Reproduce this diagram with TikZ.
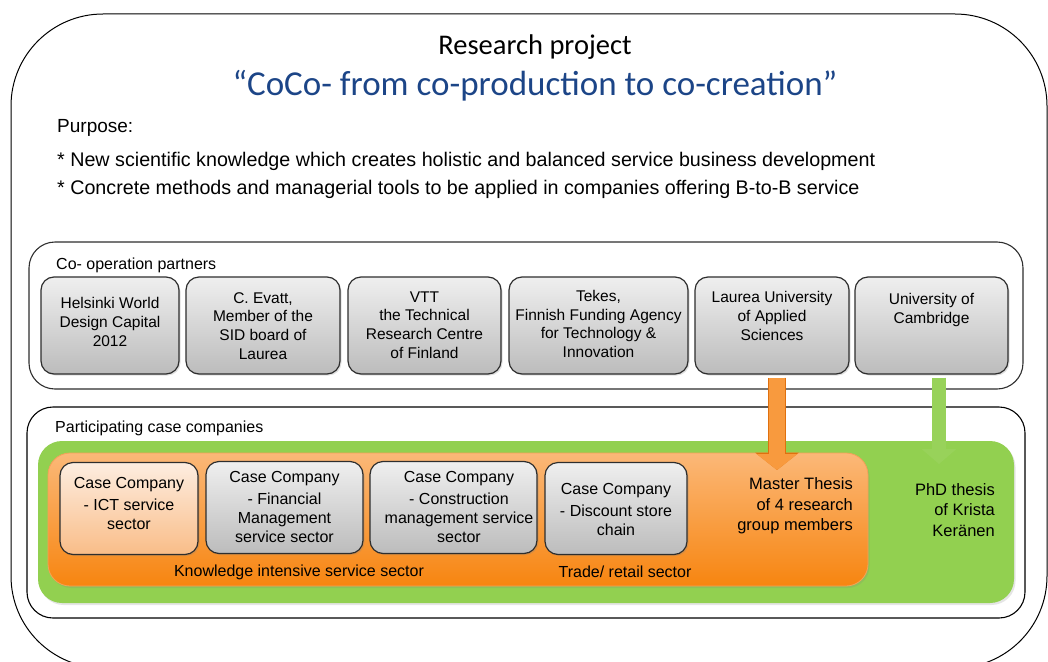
\documentclass[tikz,border=0pt]{standalone}
\usepackage{fontspec}
\setmainfont{Liberation Sans}
\newfontfamily\headfont{Carlito}
\usepackage{tikz}
\usetikzlibrary{arrows.meta}
\usetikzlibrary{shadows}

\definecolor{titleblue}{HTML}{1C4587}
\definecolor{boxtop}{HTML}{EFEFEF}
\definecolor{boxbottom}{HTML}{BCBCBC}
\definecolor{boxline}{HTML}{2E2E2E}
\definecolor{peachtop}{HTML}{FDEDE0}
\definecolor{peachbottom}{HTML}{F9BD88}
\definecolor{orangetop}{HTML}{FBB878}
\definecolor{orangebottom}{HTML}{F78510}
\definecolor{orangeline}{HTML}{F5A158}
\definecolor{leafgreen}{HTML}{92D050}
\definecolor{arrowgreen}{HTML}{98D25A}
\definecolor{arroworange}{HTML}{F89A3E}
\definecolor{arrowedge}{HTML}{E0700E}

\begin{document}
\begin{tikzpicture}[x=1pt,y=-1pt,
  frame/.style={draw=black, line width=1.1pt, rounded corners=26pt, fill=white, inner sep=0pt},
  partner/.style={draw=boxline, line width=1.2pt, rounded corners=13pt, inner sep=0pt,
    top color=boxtop, bottom color=boxbottom,
    drop shadow={shadow xshift=1.5pt, shadow yshift=-1.5pt, opacity=.25}},
  boxtext/.style={align=center, inner sep=0pt, font=\fontsize{15.5}{18.8}\selectfont},
  casetext/.style={align=center, inner sep=0pt, font=\fontsize{16}{19}\selectfont},
  grouplabel/.style={anchor=base west, inner sep=0pt, font=\fontsize{16}{19}\selectfont},
  orangearrow/.style={draw=arroworange, line width=16pt, shorten <=3pt,
    -{Triangle[width=40pt,length=16pt]},
    preaction={draw=arrowedge, line width=17.5pt, shorten <=3pt, -{Triangle[width=43pt,length=17.5pt]}}},
  greenarrow/.style={draw=arrowgreen, line width=14pt, shorten <=3pt,
    -{Triangle[width=34pt,length=15pt]}}]
\useasboundingbox (0,0) rectangle (1048,661);
\clip (0,0) rectangle (1048,661);

\coordinate (mastertip) at (777,470);
\coordinate (phdtip) at (939,464);

% outer frame and heading
\draw[line width=1pt, rounded corners=92pt] (11,14) rectangle (1047,668);
\node[anchor=base, inner sep=0pt, font=\headfont\fontsize{28.5}{30}\selectfont] (project) at (535,55) {Research project};
\node[anchor=base, inner sep=0pt, text=titleblue, font=\headfont\fontsize{35}{37}\selectfont] (title) at (535,95) {“CoCo- from co-production to co-creation”};
\node[anchor=base west, inner sep=0pt, font=\fontsize{19}{22}\selectfont] (purpose) at (57,132) {Purpose:};
\node[anchor=base west, inner sep=0pt, font=\fontsize{19.7}{22}\selectfont] (aim1) at (57,166) {* New scientific knowledge which creates holistic and balanced service business development};
\node[anchor=base west, inner sep=0pt, font=\fontsize{19.7}{22}\selectfont] (aim2) at (57,194) {* Concrete methods and managerial tools to be applied in companies offering B-to-B service};

% co-operation partners
\node[frame, draw=boxline, minimum width=994pt, minimum height=147pt] (partners) at (526,315.5) {};
\node[grouplabel] (partnerslabel) at (56,269) {Co- operation partners};
\node[partner, minimum width=138pt, minimum height=97pt] (helsinki) at (110,325.5) {};
\node[partner, minimum width=154pt, minimum height=97pt] (evatt) at (263,325.5) {};
\node[partner, minimum width=153pt, minimum height=97pt] (vtt) at (424.5,325.5) {};
\node[partner, minimum width=179pt, minimum height=97pt] (tekes) at (598.5,325.5) {};
\node[partner, minimum width=154pt, minimum height=97pt] (laurea) at (772,325.5) {};
\node[partner, minimum width=153pt, minimum height=97pt] (cambridge) at (931.5,325.5) {};
\node[boxtext] (helsinkitext) at (110,322) {Helsinki World\\Design Capital\\2012};
\node[boxtext] (evatttext) at (263,326) {C. Evatt,\\Member of the\\SID board of\\Laurea};
\node[boxtext] (vtttext) at (424.5,325) {VTT\\the Technical\\Research Centre\\of Finland};
\node[boxtext] (tekestext) at (598.5,324) {Tekes,\\Finnish Funding Agency\\for Technology \&\\Innovation};
\node[boxtext] (laureatext) at (772,316) {Laurea University\\of Applied\\Sciences};
\node[boxtext] (cambridgetext) at (931.5,310) {University of\\Cambridge};

% participating case companies
\node[frame, minimum width=998pt, minimum height=211pt] (cases) at (526,512.5) {};
\node[grouplabel] (caseslabel) at (55,432) {Participating case companies};
\node[fill=leafgreen, rounded corners=24pt, inner sep=0pt, minimum width=976pt, minimum height=162pt,
  drop shadow={shadow xshift=1.5pt, shadow yshift=-2pt, opacity=.2}] (phdarea) at (526,522) {};
\node[draw=orangeline, line width=.8pt, rounded corners=22pt, inner sep=0pt, top color=orangetop, bottom color=orangebottom,
  minimum width=820pt, minimum height=133pt,
  drop shadow={shadow xshift=1.5pt, shadow yshift=-2pt, opacity=.2}] (masterarea) at (458,519.5) {};
\node[partner, top color=peachtop, bottom color=peachbottom, minimum width=138pt, minimum height=92pt] (ict) at (129,508.5) {};
\node[partner, minimum width=157pt, minimum height=92pt] (financial) at (284.5,507.5) {};
\node[partner, minimum width=167pt, minimum height=92pt] (construction) at (453.5,507.5) {};
\node[partner, minimum width=142pt, minimum height=92pt] (discount) at (616,508.5) {};
\node[casetext] (icttext) at (129,503) {Case Company\\[3pt]- ICT service\\sector};
\node[casetext] (financialtext) at (284.5,507) {Case Company\\[3pt]- Financial\\Management\\service sector};
\node[casetext] (constructiontext) at (459,507) {Case Company\\[3pt]- Construction\\management service\\sector};
\node[casetext] (discounttext) at (616,509) {Case Company\\[3pt]- Discount store\\chain};
\node[casetext] (knowledge) at (299,572) {Knowledge intensive service sector};
\node[casetext] (trade) at (625,572) {Trade/ retail sector};
\node[casetext, align=right, anchor=east, font=\fontsize{16.5}{20.5}\selectfont] (master) at (853,506) {Master Thesis\\of 4 research\\group members};
\node[casetext, align=right, anchor=east, font=\fontsize{16.5}{20.5}\selectfont] (phd) at (995,510) {PhD thesis\\of Krista\\Keränen};

% arrows from partners to theses
\draw[orangearrow] (mastertip |- laurea.south) -- (mastertip);
\draw[greenarrow] (phdtip |- cambridge.south) -- (phdtip);
\end{tikzpicture}
\end{document}
